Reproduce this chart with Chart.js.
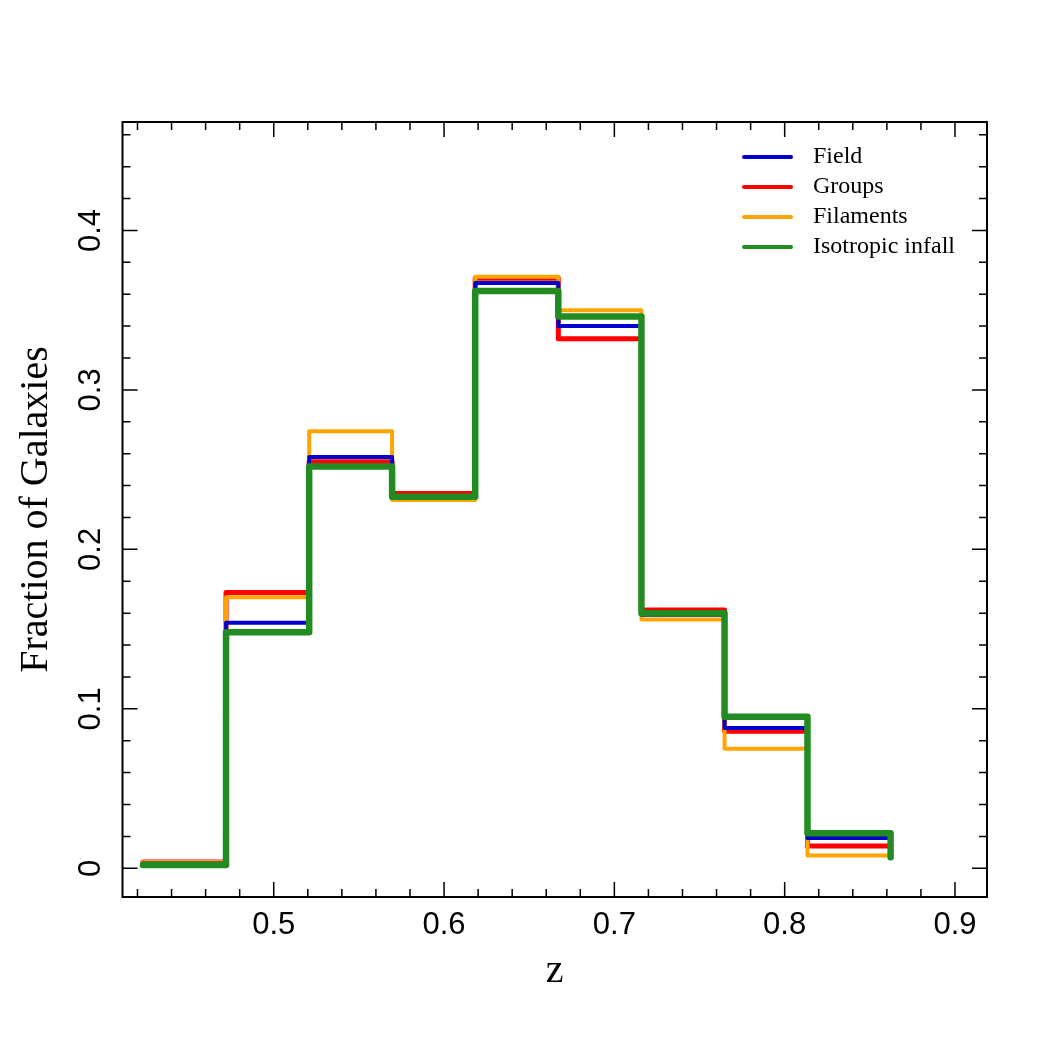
<!DOCTYPE html>
<html>
<head>
<meta charset="utf-8">
<script src="https://cdn.jsdelivr.net/npm/chart.js@4.4.0/dist/chart.umd.min.js"></script>
<style>
html, body { margin: 0; padding: 0; background: #fff; }
</style>
</head>
<body>
<canvas id="hist" width="1050" height="1050"></canvas>
<script>
// bin edges in z (9 bins)
var binEdges = [0.4232, 0.4720, 0.5208, 0.5695, 0.6183, 0.6671, 0.7159, 0.7647, 0.8134, 0.8622];
var field     = [0.003, 0.154, 0.258, 0.233, 0.367, 0.340, 0.159, 0.088, 0.019];
var groups    = [0.004, 0.173, 0.255, 0.235, 0.370, 0.332, 0.162, 0.086, 0.014];
var filaments = [0.004, 0.170, 0.274, 0.231, 0.371, 0.350, 0.156, 0.075, 0.008];
var isotropic = [0.002, 0.148, 0.252, 0.233, 0.362, 0.346, 0.160, 0.095, 0.022];
var tailValue = 0.007;
var xTicks = [0.5, 0.6, 0.7, 0.8, 0.9];
var yTicks = [0, 0.1, 0.2, 0.3, 0.4];

function steps(vals) {
	var pts = [];
	for (var i = 0; i < vals.length; i++) {
		pts.push({x: binEdges[i], y: vals[i]});
	}
	pts.push({x: binEdges[binEdges.length - 1], y: tailValue});
	return pts;
}

function series(label, vals, color, width, order) {
	return {
		label: label,
		data: steps(vals),
		borderColor: color,
		backgroundColor: color,
		borderWidth: width,
		stepped: true,
		pointRadius: 0,
		fill: false,
		borderCapStyle: 'round',
		borderJoinStyle: 'round',
		order: order
	};
}

// inward ticks on all four sides + box + legend
var frameTicks = {
	id: 'frameTicks',
	afterDraw: function(chart) {
		var ctx = chart.ctx, a = chart.chartArea;
		var sx = chart.scales.x, sy = chart.scales.y;
		ctx.save();
		ctx.strokeStyle = '#000';
		ctx.lineWidth = 1.5;
		ctx.beginPath();
		for (var k = 21; k <= 45; k++) {
			var px = sx.getPixelForValue(k / 50);
			var len = (k % 5 === 0) ? 15 : 8;
			ctx.moveTo(px, a.bottom); ctx.lineTo(px, a.bottom - len);
			ctx.moveTo(px, a.top); ctx.lineTo(px, a.top + len);
		}
		for (var j = 0; j <= 23; j++) {
			var py = sy.getPixelForValue(j / 50);
			var l2 = (j % 5 === 0) ? 15 : 8;
			ctx.moveTo(a.left, py); ctx.lineTo(a.left + l2, py);
			ctx.moveTo(a.right, py); ctx.lineTo(a.right - l2, py);
		}
		ctx.stroke();
		ctx.lineWidth = 2;
		ctx.strokeRect(a.left, a.top, a.right - a.left, a.bottom - a.top);

		// legend
		var ds = chart.data.datasets;
		ctx.font = '24px "Liberation Serif"';
		ctx.textBaseline = 'middle';
		ctx.textAlign = 'left';
		ctx.lineCap = 'round';
		for (var i = 0; i < ds.length; i++) {
			var y = a.top + 35 + i * 30;
			ctx.strokeStyle = ds[i].borderColor;
			ctx.lineWidth = 4;
			ctx.beginPath();
			ctx.moveTo(a.right - 243, y);
			ctx.lineTo(a.right - 196, y);
			ctx.stroke();
			ctx.fillStyle = '#000';
			ctx.fillText(ds[i].label, a.right - 174, y);
		}
		ctx.restore();
	}
};

new Chart(document.getElementById('hist'), {
	type: 'line',
	data: {
		datasets: [
			series('Field', field, '#0000cd', 4, 1),
			series('Groups', groups, '#ff0000', 5, 3),
			series('Filaments', filaments, '#ffa500', 4, 2),
			series('Isotropic infall', isotropic, '#228b22', 6.5, 0)
		]
	},
	options: {
		responsive: false,
		animation: false,
		layout: { padding: { top: 122, right: 63, left: 0, bottom: 0 } },
		plugins: { legend: { display: false }, tooltip: { enabled: false } },
		scales: {
			x: {
				type: 'linear',
				min: 0.4112,
				max: 0.9188,
				afterFit: function(s) { s.height = 153; },
				afterBuildTicks: function(s) { s.ticks = xTicks.map(function(v) { return {value: v}; }); },
				grid: { display: false, drawTicks: false },
				border: { display: false },
				ticks: {
					color: '#000',
					font: { family: '"Liberation Sans"', size: 31 },
					padding: 10,
					maxRotation: 0,
					callback: function(v) { return v.toFixed(1); }
				},
				title: {
					display: true,
					text: 'z',
					color: '#000',
					font: { family: '"Liberation Serif"', size: 40 },
					padding: { top: 0, bottom: 55 }
				}
			},
			y: {
				type: 'linear',
				min: -0.018,
				max: 0.468,
				afterFit: function(s) { s.width = 122.5; },
				afterBuildTicks: function(s) { s.ticks = yTicks.map(function(v) { return {value: v}; }); },
				grid: { display: false, drawTicks: false },
				border: { display: false },
				ticks: {
					color: '#000',
					font: { family: '"Liberation Sans"', size: 31 },
					padding: 9,
					minRotation: 90,
					maxRotation: 90,
					crossAlign: 'center',
					callback: function(v) { return v === 0 ? '0' : v.toFixed(1); }
				},
				title: {
					display: true,
					text: 'Fraction of Galaxies',
					color: '#000',
					font: { family: '"Liberation Serif"', size: 40 },
					padding: { top: 12, bottom: 0 }
				}
			}
		}
	},
	plugins: [frameTicks]
});
</script>
</body>
</html>
